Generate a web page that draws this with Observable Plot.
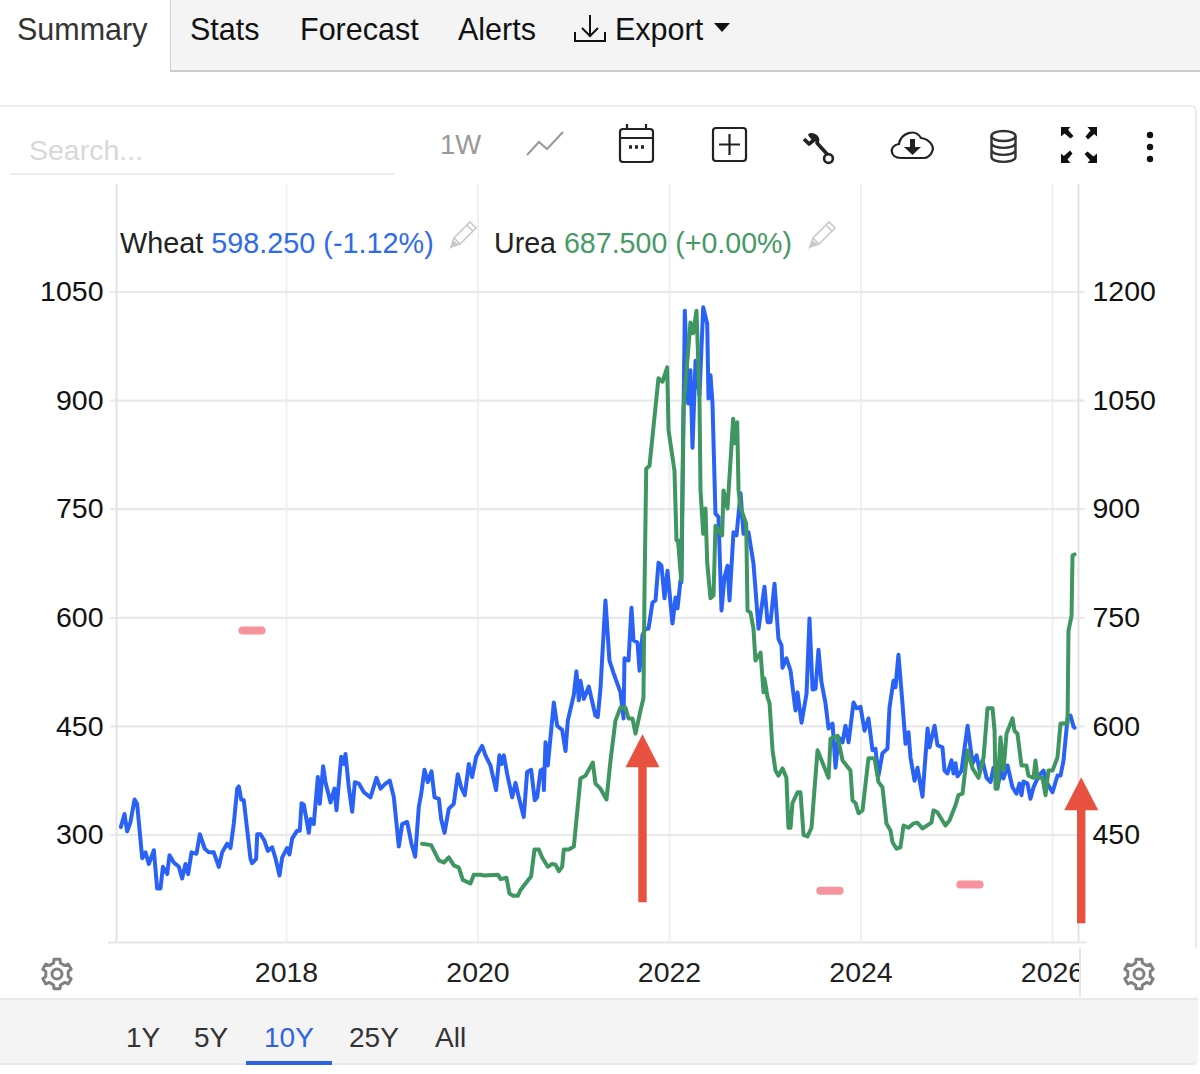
<!DOCTYPE html>
<html><head><meta charset="utf-8">
<script src="https://cdn.jsdelivr.net/npm/d3@7"></script>
<script src="https://cdn.jsdelivr.net/npm/@observablehq/plot@0.6"></script>
<style>
html,body{margin:0;padding:0;background:#fff;}
#page{position:relative;width:1200px;height:1074px;overflow:hidden;font-family:"Liberation Sans",Arial,sans-serif;color:#111;background:#fff;}
.a{position:absolute;white-space:nowrap;line-height:1;}
.a svg,svg.a{display:block;overflow:visible;}
#chart{position:absolute;left:0;top:184px;}
</style></head><body>
<div id="page">
  <div class="a" style="left:170px;top:0;width:1030px;height:70px;background:#f4f4f4;border-left:1.5px solid #cfcfcf;border-bottom:2px solid #cccccc;"></div>
  <div class="a" style="left:17px;top:14px;font-size:30.5px;color:#333;">Summary</div>
  <div class="a" style="left:190px;top:14px;font-size:30.5px;">Stats</div>
  <div class="a" style="left:300px;top:14px;font-size:30.5px;">Forecast</div>
  <div class="a" style="left:458px;top:14px;font-size:30.5px;">Alerts</div>
  <svg class="a" style="left:574px;top:14px" width="33" height="29" fill="none" stroke="#111" stroke-width="2"><path d="M16 1v21M8 14l8 8 8-8M1 18v9h30v-9"/></svg>
  <div class="a" style="left:615px;top:14px;font-size:30.5px;">Export</div>
  <svg class="a" style="left:714px;top:23px" width="16" height="10"><path d="M0 0h16l-8 9z" fill="#111"/></svg>

  <div class="a" style="left:-4px;top:105px;width:1201px;height:960px;border:2px solid #ececee;border-radius:6px;box-sizing:border-box;"></div>
  <div class="a" style="left:29px;top:136px;font-size:28.5px;color:#d8d8d8;">Search...</div>
  <div class="a" style="left:10px;top:173px;width:384px;height:2px;background:#eeeeee;"></div>
  <div class="a" style="left:440px;top:131px;font-size:27.5px;color:#999;">1W</div>
  <svg class="a" style="left:526px;top:131px" width="38" height="26" fill="none" stroke="#999" stroke-width="2"><path d="M1 24L13 11l8 7L37 1"/></svg>
  <svg class="a" style="left:619px;top:124px" width="35" height="39" fill="none" stroke="#222" stroke-width="2.2"><rect x="1" y="5" width="33" height="33" rx="3"/><path d="M1 14h33M8 0v5M27 0v5"/><path d="M10 23h3M16 23h3M22 23h3" stroke-width="3.4"/></svg>
  <svg class="a" style="left:712px;top:127px" width="36" height="36" fill="none" stroke="#222" stroke-width="2.2"><rect x="1" y="1" width="33" height="33" rx="3"/><path d="M17.5 7v21M7 17.5h21"/></svg>
  <svg class="a" style="left:802px;top:133px" width="33" height="32" fill="none" stroke="#222"><path d="M2 6l5 5 5-4-4-5c5-1 9 3 7 8l10 11" stroke-width="3.6" stroke-linejoin="round"/><circle cx="26.5" cy="25.5" r="4.4" stroke-width="2.6"/></svg>
  <svg class="a" style="left:891px;top:130px" width="43" height="30" fill="none" stroke="#222" stroke-width="2.2"><path d="M10 28C-2 28-2 15 8 14 10 3 24-2 30 8 38 9 44 16 41 22 39 26 36 28 33 28z"/><path d="M21.5 9v9" stroke-width="5"/><path d="M13 17h17l-8.500 8z" fill="#222" stroke="none"/></svg>
  <svg class="a" style="left:990px;top:130px" width="27" height="33" fill="none" stroke="#333" stroke-width="2.4"><ellipse cx="13.500" cy="6" rx="12" ry="5"/><path d="M1.500 6v21c0 6.500 24 6.500 24 0V6M1.500 13c0 6.500 24 6.500 24 0M1.500 20c0 6.500 24 6.500 24 0"/></svg>
  <svg class="a" style="left:1061px;top:127px" width="37" height="37" fill="#111"><path d="M0 0h9.500L7 2.800 12.500 9 9.500 11.500 3.500 6.500 0 9.500zM36 0v9.500L33.200 7 27 12.500 24.500 9.500 29.500 3.500 26.500 0zM0 36v-9.500L2.800 29 9 23.500 11.500 26.500 6.500 32.500 9.500 36zM36 36h-9.500L29 33.200 23.500 27 26.500 24.500 32.500 29.500 36 26.500z"/></svg>
  <svg class="a" style="left:1144px;top:129px" width="12" height="36" fill="#111"><circle cx="6" cy="6" r="3.200"/><circle cx="6" cy="18" r="3.200"/><circle cx="6" cy="30" r="3.200"/></svg>

  <div id="chart"></div>

  <div class="a" style="left:120px;top:229px;font-size:28.8px;color:#222;">Wheat <span style="color:#2f6bea;">598.250 (-1.12%)</span></div>
  <svg class="a pencil" style="left:449px;top:219px" width="30" height="30"></svg>
  <div class="a" style="left:494px;top:229px;font-size:28.6px;color:#222;">Urea <span style="color:#469a66;">687.500 (+0.00%)</span></div>
  <svg class="a pencil" style="left:808px;top:219px" width="30" height="30"></svg>

  <div class="a" style="left:1079px;top:948px;width:118px;height:49px;background:#fff;border-left:2px solid #e4e5ea;"></div>
  <svg class="a gear" style="left:41px;top:958px" width="32" height="32"></svg>
  <svg class="a gear" style="left:1123px;top:958px" width="32" height="32"></svg>

  <div class="a" style="left:0;top:998px;width:1198px;height:67px;background:#f4f4f5;border-top:2px solid #e8e9ee;border-bottom:2px solid #e8e9ee;border-radius:0 0 6px 0;box-sizing:border-box;"></div>
  <div class="a" style="left:126px;top:1024px;font-size:28px;color:#333;">1Y</div>
  <div class="a" style="left:194px;top:1024px;font-size:28px;color:#333;">5Y</div>
  <div class="a" style="left:264px;top:1024px;font-size:28px;color:#2f63e6;">10Y</div>
  <div class="a" style="left:349px;top:1024px;font-size:28px;color:#333;">25Y</div>
  <div class="a" style="left:435px;top:1024px;font-size:28px;color:#333;">All</div>
  <div class="a" style="left:246px;top:1061px;width:86px;height:3.500px;background:#2f63e6;"></div>
</div>
<script>
// Years (decimal) and prices
const wheatYears = [2016.27,2016.308,2016.336,2016.371,2016.413,2016.44,2016.493,2016.528,2016.562,2016.615,2016.649,2016.684,2016.709,2016.754,2016.778,2016.823,2016.876,2016.91,2016.945,2016.973,2017.008,2017.06,2017.095,2017.147,2017.189,2017.241,2017.293,2017.328,2017.38,2017.415,2017.45,2017.485,2017.502,2017.527,2017.554,2017.624,2017.641,2017.683,2017.694,2017.728,2017.77,2017.805,2017.85,2017.885,2017.927,2017.955,2018.007,2018.031,2018.059,2018.111,2018.139,2018.157,2018.181,2018.233,2018.251,2018.285,2018.327,2018.348,2018.383,2018.407,2018.46,2018.501,2018.522,2018.571,2018.599,2018.616,2018.651,2018.686,2018.714,2018.755,2018.808,2018.877,2018.94,2018.982,2019.034,2019.079,2019.121,2019.173,2019.208,2019.26,2019.305,2019.344,2019.382,2019.406,2019.441,2019.476,2019.514,2019.546,2019.591,2019.615,2019.65,2019.695,2019.747,2019.789,2019.824,2019.862,2019.904,2019.939,2019.981,2020.043,2020.078,2020.13,2020.189,2020.224,2020.245,2020.27,2020.305,2020.357,2020.392,2020.426,2020.478,2020.513,2020.555,2020.593,2020.618,2020.653,2020.681,2020.688,2020.705,2020.729,2020.792,2020.827,2020.879,2020.914,2020.938,2021.0,2021.028,2021.053,2021.07,2021.105,2021.157,2021.226,2021.251,2021.279,2021.331,2021.373,2021.415,2021.488,2021.52,2021.53,2021.572,2021.603,2021.624,2021.666,2021.687,2021.718,2021.749,2021.781,2021.822,2021.854,2021.885,2021.916,2021.948,2021.979,2022.031,2022.063,2022.084,2022.115,2022.125,2022.16,2022.195,2022.219,2022.24,2022.272,2022.313,2022.352,2022.394,2022.407,2022.428,2022.449,2022.48,2022.512,2022.543,2022.574,2022.606,2022.627,2022.668,2022.7,2022.742,2022.773,2022.825,2022.877,2022.93,2022.992,2023.024,2023.055,2023.097,2023.138,2023.17,2023.18,2023.221,2023.264,2023.316,2023.337,2023.379,2023.431,2023.462,2023.494,2023.525,2023.556,2023.587,2023.629,2023.661,2023.703,2023.734,2023.765,2023.807,2023.838,2023.87,2023.922,2023.953,2023.995,2024.037,2024.078,2024.12,2024.151,2024.183,2024.224,2024.276,2024.297,2024.339,2024.36,2024.391,2024.433,2024.465,2024.496,2024.517,2024.559,2024.59,2024.642,2024.695,2024.716,2024.768,2024.799,2024.851,2024.872,2024.903,2024.945,2024.966,2024.987,2025.008,2025.05,2025.113,2025.165,2025.207,2025.238,2025.269,2025.311,2025.353,2025.384,2025.426,2025.478,2025.488,2025.53,2025.582,2025.624,2025.655,2025.676,2025.697,2025.739,2025.77,2025.802,2025.854,2025.906,2025.937,2026.0,2026.052,2026.084,2026.115,2026.157,2026.188,2026.219,2026.23];
const wheatValues = [461,479,455,468,499,493,418,426,410,429,376,376,406,396,422,412,406,390,410,396,426,424,451,431,426,426,406,426,438,432,466,514,517,499,498,417,411,417,451,451,442,428,433,418,394,419,432,423,445,456,456,494,492,453,472,465,530,493,545,523,495,514,484,558,548,562,516,482,523,521,509,502,529,514,521,525,502,434,465,468,438,420,489,506,540,523,538,502,500,472,453,486,493,534,516,505,548,530,558,573,560,546,512,560,548,560,534,502,522,502,475,537,540,498,502,539,541,512,578,546,633,601,595,566,608,643,676,636,663,638,655,615,613,652,774,691,674,647,611,694,691,764,719,716,677,726,735,735,771,774,826,822,777,815,742,778,763,802,799,1174,1046,1092,985,1105,1057,1179,1156,1053,1085,1046,894,889,760,806,822,774,868,864,922,866,868,825,735,793,744,744,797,721,712,681,694,677,622,647,605,645,749,651,652,706,661,632,597,604,543,585,578,601,578,633,625,627,594,611,567,569,532,563,569,625,663,654,699,632,576,592,557,525,543,503,597,571,601,574,571,539,535,553,535,549,531,539,601,549,560,539,553,529,523,543,516,549,528,546,516,507,521,505,524,521,500,516,531,539,523,509,532,532,553,611,615,600,598.25];
const ureaYears = [2019.417,2019.511,2019.591,2019.643,2019.695,2019.748,2019.8,2019.841,2019.921,2019.956,2020.026,2020.061,2020.21,2020.235,2020.297,2020.329,2020.367,2020.416,2020.444,2020.496,2020.555,2020.59,2020.635,2020.67,2020.729,2020.774,2020.809,2020.844,2020.879,2020.896,2020.948,2021.001,2021.07,2021.123,2021.199,2021.227,2021.279,2021.342,2021.384,2021.436,2021.488,2021.54,2021.572,2021.613,2021.645,2021.697,2021.728,2021.739,2021.757,2021.791,2021.885,2021.927,2021.976,2021.99,2022.052,2022.073,2022.089,2022.122,2022.146,2022.219,2022.247,2022.282,2022.313,2022.324,2022.352,2022.376,2022.394,2022.428,2022.46,2022.48,2022.55,2022.564,2022.606,2022.665,2022.679,2022.707,2022.721,2022.742,2022.801,2022.815,2022.846,2022.877,2022.898,2022.951,2022.982,2022.992,2023.024,2023.045,2023.076,2023.107,2023.138,2023.18,2023.221,2023.242,2023.264,2023.284,2023.337,2023.368,2023.4,2023.441,2023.483,2023.546,2023.661,2023.682,2023.755,2023.807,2023.89,2023.911,2023.943,2023.974,2024.016,2024.078,2024.141,2024.183,2024.224,2024.266,2024.308,2024.329,2024.371,2024.412,2024.444,2024.496,2024.548,2024.59,2024.642,2024.736,2024.757,2024.799,2024.882,2024.924,2024.987,2025.018,2025.06,2025.113,2025.165,2025.228,2025.28,2025.321,2025.374,2025.395,2025.405,2025.426,2025.457,2025.488,2025.52,2025.582,2025.603,2025.634,2025.676,2025.728,2025.749,2025.802,2025.822,2025.843,2025.895,2025.927,2025.958,2026.0,2026.052,2026.084,2026.157,2026.167,2026.199,2026.209,2026.23];
const ureaValues = [288,286,265,262,269,258,255,238,233,245,245,244,245,239,241,219,216,216,224,233,243,280,280,269,256,260,259,250,256,280,280,284,378,382,400,371,364,349,403,458,476,476,461,461,440,472,489,638,806,810,931,926,946,859,803,707,707,652,890,1008,993,1024,904,776,716,751,676,627,631,727,714,776,751,875,841,870,776,752,730,610,607,585,541,552,497,516,490,482,417,389,382,392,379,310,310,344,359,359,300,298,310,417,379,433,437,403,389,348,344,330,334,406,406,373,366,316,306,290,281,283,313,310,316,317,309,317,334,331,313,320,341,355,357,417,392,379,407,475,475,444,364,364,435,389,440,461,444,440,396,396,382,379,403,379,379,355,389,389,407,454,454,582,603,686,687.5];
const leftTicks = [300,450,600,750,900,1050];
const xTicks = [2018,2020,2022,2024,2026];
const axisOffset = 150; // right-hand (wheat) axis minus left-hand (urea) axis
// Hand-drawn annotations
const arrowYears = [2021.718,2026.3];
const arrowBases = [207,178];
const arrowLengths = [168,146];
const dashStarts = [2017.54,2023.575,2025.037];
const dashEnds = [2017.74,2023.777,2025.239];
const dashLevels = [582.5,223,231.7];

const xDomain = [2016.2246,2026.2715];
const yDomain = [151.5,1198.5];

const arrowShape = {
  draw(ctx, l) {
    const head = 33, hw = 17, sw = 4.2;
    ctx.moveTo(-sw, 0);
    ctx.lineTo(-sw, -(l - head));
    ctx.lineTo(-hw, -(l - head));
    ctx.lineTo(0, -l);
    ctx.lineTo(hw, -(l - head));
    ctx.lineTo(sw, -(l - head));
    ctx.lineTo(sw, 0);
    ctx.closePath();
  }
};

const chart = Plot.plot({
  width: 1200, height: 814,
  marginTop: 0, marginBottom: 56, marginLeft: 116, marginRight: 122,
  style: {fontFamily: '"Liberation Sans",Arial,sans-serif', background: "transparent", overflow: "visible", color: "#222"},
  x: {domain: xDomain},
  y: {domain: yDomain},
  length: {type: "identity"},
  marks: [
    Plot.ruleX(xTicks, {stroke: "#eef0f6", strokeWidth: 2}),
    Plot.ruleY(leftTicks, {x1: () => 2016.16, x2: () => 2026.34, stroke: "#e9e9eb", strokeWidth: 2.2}),
    Plot.ruleX(xDomain, {stroke: "#e2e3e8", strokeWidth: 2}),
    Plot.ruleY([yDomain[0]], {x1: () => 2016.14, x2: () => 2026.36, stroke: "#e4e5e9", strokeWidth: 2}),
    Plot.axisY(leftTicks, {anchor: "left", tickSize: 0, tickPadding: 13, fontSize: 28.5, fill: "#111", tickFormat: d => String(d)}),
    Plot.axisY(leftTicks, {anchor: "right", tickSize: 0, tickPadding: 14, fontSize: 28.5, fill: "#111", tickFormat: d => String(d + axisOffset)}),
    Plot.axisX(xTicks, {anchor: "bottom", tickSize: 0, tickPadding: 19, fontSize: 28.5, fill: "#222", tickFormat: d => String(d)}),
    Plot.link(dashLevels, {x1: (d, i) => dashStarts[i], x2: (d, i) => dashEnds[i], y1: d => d, y2: d => d, stroke: "#f6808c", strokeWidth: 8, strokeLinecap: "round", strokeOpacity: 0.85}),
    Plot.line(wheatValues, {x: (d, i) => wheatYears[i], y: d => d - axisOffset, stroke: "#2a62f6", strokeWidth: 4, strokeLinejoin: "round"}),
    Plot.line(ureaValues, {x: (d, i) => ureaYears[i], y: d => d, stroke: "#3f9660", strokeWidth: 4, strokeLinejoin: "round"}),
    Plot.vector(arrowBases, {x: (d, i) => arrowYears[i], y: d => d, length: (d, i) => arrowLengths[i], shape: arrowShape, anchor: "start", fill: "#e8503f", stroke: "none"})
  ]
});
document.getElementById("chart").appendChild(chart);

// UI furniture
document.querySelectorAll("svg.pencil").forEach(s => {
  s.innerHTML = '<g fill="none" stroke="#c9c9c9" stroke-width="1.6"><path d="M2 28l3-9L21 3l6 6L11 25z"/><path d="M5 19l6 6M18 6l6 6"/><path d="M2 28l3-5 3 2z" fill="#c9c9c9"/></g>';
});
document.querySelectorAll("svg.gear").forEach(s => {
  const c = 16, pts = [], n = 6;
  for (let i = 0; i < n; i++) {
    const a = i * 2 * Math.PI / n - Math.PI / 2;
    [[-0.30, 11.5], [-0.20, 15], [0.20, 15], [0.30, 11.5]].forEach(([d, r]) => pts.push([c + r * Math.cos(a + d), c + r * Math.sin(a + d)]));
  }
  s.innerHTML = '<path d="M' + pts.map(p => p[0].toFixed(1) + " " + p[1].toFixed(1)).join("L") + 'Z" fill="none" stroke="#808080" stroke-width="3" stroke-linejoin="round"/><circle cx="16" cy="16" r="5" fill="none" stroke="#808080" stroke-width="3"/>';
});
</script>
</body></html>
